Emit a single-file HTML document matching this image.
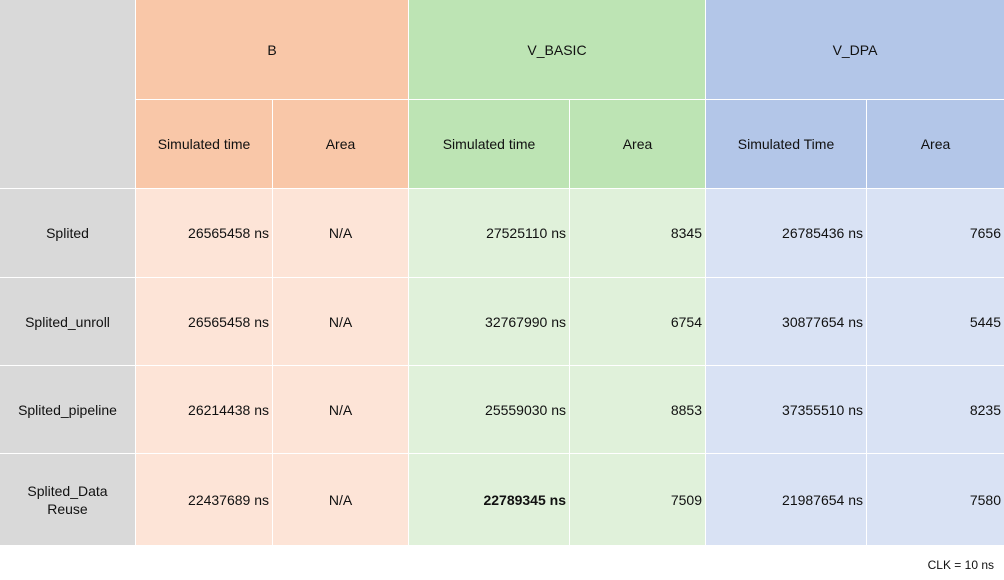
<!DOCTYPE html>
<html><head><meta charset="utf-8"><style>
body{margin:0;width:1004px;height:580px;background:#fff;font-family:"Liberation Sans",sans-serif;font-size:14px;color:#111;position:relative;overflow:hidden}
.c{position:absolute;display:flex;align-items:center;box-sizing:border-box;text-align:center;line-height:18px}
.ctr{justify-content:center}.rt{justify-content:flex-end;padding-right:3px}
.g{background:#d9d9d9}.oh{background:#f9c7a8}.ol{background:#fde4d7}.gh{background:#bde4b4}.gl{background:#e0f1da}.bh{background:#b3c6e8}.bl{background:#d9e2f4}
</style></head><body>
<div id="t"></div>
<div class="c" style="right:10px;top:556px;font-size:12px">CLK = 10 ns</div>
<script>
const xs=[0,135,272,408,569,705,866,1004];
const ys=[0,99,188,277,365,453,545];
const rows=['Splited','Splited_unroll','Splited_pipeline','Splited_Data<br>Reuse'];
const bSim=['26565458 ns','26565458 ns','26214438 ns','22437689 ns'];
const vSim=['27525110 ns','32767990 ns','25559030 ns','<b>22789345 ns</b>'];
const vArea=['8345','6754','8853','7509'];
const dSim=['26785436 ns','30877654 ns','37355510 ns','21987654 ns'];
const dArea=['7656','5445','8235','7580'];
const t=document.getElementById('t');
function cell(c0,c1,r0,r1,cls,html,name){
 const d=document.createElement('div');
 d.className='c '+cls;
 d.style.left=(xs[c0]+(c0?1:0))+'px';d.style.top=(ys[r0]+(r0?1:0))+'px';
 d.style.width=(xs[c1]-xs[c0]-(c0?1:0))+'px';d.style.height=(ys[r1]-ys[r0]-(r0?1:0))+'px';
 d.innerHTML=html;
 
 
 t.appendChild(d);
}
cell(0,1,0,2,'g','', 'corner-cell');
cell(1,3,0,1,'oh ctr','B','header-b');
cell(3,5,0,1,'gh ctr','V_BASIC','header-v-basic');
cell(5,7,0,1,'bh ctr','V_DPA','header-v-dpa');
cell(1,2,1,2,'oh ctr','Simulated time','b-sim-header');
cell(2,3,1,2,'oh ctr','Area','b-area-header');
cell(3,4,1,2,'gh ctr','Simulated time','v-basic-sim-header');
cell(4,5,1,2,'gh ctr','Area','v-basic-area-header');
cell(5,6,1,2,'bh ctr','Simulated Time','v-dpa-sim-header');
cell(6,7,1,2,'bh ctr','Area','v-dpa-area-header');
rows.forEach((r,i)=>{
 const R=i+2;
 cell(0,1,R,R+1,'g ctr',r,'row-label');
 cell(1,2,R,R+1,'ol rt',bSim[i],'b-sim-value');
 cell(2,3,R,R+1,'ol ctr','N/A','b-area-value');
 cell(3,4,R,R+1,'gl rt',vSim[i],'v-basic-sim-value');
 cell(4,5,R,R+1,'gl rt',vArea[i],'v-basic-area-value');
 cell(5,6,R,R+1,'bl rt',dSim[i],'v-dpa-sim-value');
 cell(6,7,R,R+1,'bl rt',dArea[i],'v-dpa-area-value');
});
</script>
</body></html>
